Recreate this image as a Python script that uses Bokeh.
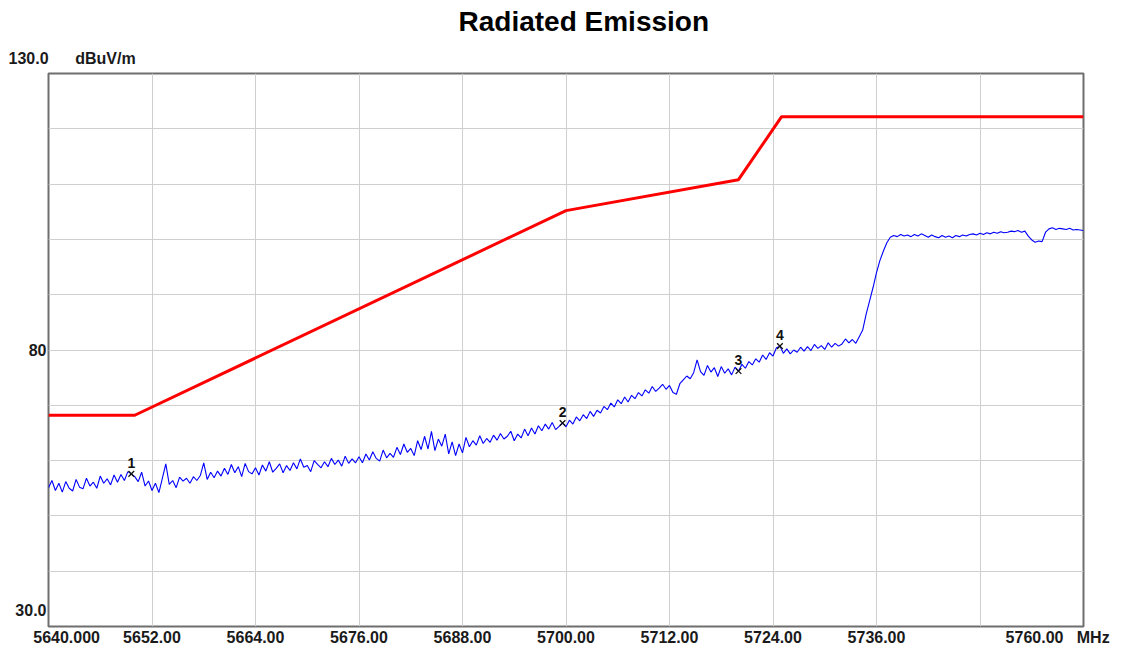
import numpy as np
from bokeh.plotting import figure
from bokeh.models import FixedTicker, Title
from bokeh.core.properties import value
from bokeh.embed import file_html
from bokeh.resources import INLINE

# ---- data ----
limit_freq = [5640.0, 5650.0, 5700.0, 5720.0, 5725.0, 5760.0]
limit_level = [68.2, 68.2, 105.2, 110.8, 122.2, 122.2]

trace_level = [
    55.1, 56.4, 54.6, 55.9, 54.3, 56.2, 55.0, 54.5, 56.6, 55.2,
    54.9, 56.8, 55.4, 56.1, 55.0, 57.2, 55.9, 56.7, 55.6, 57.4,
    56.1, 57.5, 56.4, 58.0, 57.6, 57.1, 56.2, 57.9, 55.4, 56.3,
    54.6, 55.9, 54.2, 56.8, 59.4, 55.7, 56.4, 55.1, 57.0, 56.3,
    56.8, 55.9, 57.1, 56.4, 57.3, 59.6, 56.6, 57.9, 56.9, 58.1,
    57.2, 58.6, 57.5, 59.3, 57.8, 58.9, 57.1, 59.5, 58.0, 57.6,
    58.7, 57.4, 59.2, 58.1, 59.8, 57.9, 58.6, 59.4, 57.8, 59.1,
    58.2, 59.6, 58.5, 60.3, 58.8, 59.1, 58.0, 60.0, 59.3, 58.7,
    59.8, 58.9, 60.4, 59.3, 60.1, 59.0, 60.8, 59.5, 60.3, 59.6,
    60.7, 59.6, 61.2, 60.1, 61.6, 60.4, 59.9, 61.9, 60.5, 61.3,
    60.6, 62.4, 61.1, 63.0, 61.5, 62.2, 60.9, 63.6, 62.0, 64.4,
    62.1, 65.3, 61.8, 63.9, 62.6, 64.8, 61.2, 63.4, 60.9, 63.0,
    61.4, 64.2, 62.5, 63.6, 62.8, 64.5, 63.1, 64.0, 63.3, 64.6,
    63.7, 64.9, 63.9, 64.4, 65.3, 63.6, 64.8, 64.1, 65.7, 64.5,
    65.9, 64.8, 66.3, 65.4, 66.6, 65.7, 66.9, 65.6, 66.2, 66.8,
    66.1, 67.3, 66.6, 67.9, 67.2, 68.3, 67.6, 68.9, 68.0, 69.1,
    68.6, 69.8, 69.2, 70.4, 69.7, 71.0, 70.3, 71.5, 70.6, 71.8,
    71.2, 72.3, 71.7, 72.8, 72.2, 73.4, 72.5, 73.1, 73.8, 72.9,
    73.6, 72.3, 72.0, 73.9, 74.6, 75.3, 74.8, 75.9, 78.2, 76.1,
    75.4, 77.2, 76.0, 76.8, 75.2, 77.0, 75.8, 76.6, 75.5, 76.9,
    76.2, 77.4, 76.7, 77.9, 77.3, 78.4, 77.8, 79.1, 78.3, 79.5,
    78.9, 80.4, 80.7, 79.4, 80.2, 79.3, 80.0, 79.6, 80.5, 79.8,
    80.6, 79.9, 81.0, 80.3, 80.8, 80.1, 81.3, 80.5, 81.2, 80.7,
    81.1, 82.0, 81.3, 81.9, 81.2, 82.4, 83.6, 86.5, 88.9, 91.3,
    94.0, 96.2, 97.9, 99.4, 100.4, 100.7, 100.5, 100.9, 100.6, 100.8,
    100.5, 100.9, 100.6, 101.0, 100.7, 100.4, 100.8, 100.5, 100.3, 100.7,
    100.4, 100.6, 100.3, 100.7, 100.5, 100.8, 100.6, 100.9, 101.0, 100.8,
    101.1, 100.9, 101.2, 101.0, 101.3, 101.1, 101.4, 101.2, 101.3, 101.5,
    101.4, 101.6, 101.3, 101.5, 100.6, 99.9, 99.5, 99.7, 99.6, 101.3,
    101.9, 102.1, 101.8, 102.0, 101.9, 101.8, 102.0, 101.7, 101.8, 101.7,
    101.6,
]
trace_freq = np.linspace(5640.0, 5760.0, len(trace_level))

marker_freq = [5649.6, 5699.6, 5720.0, 5724.8]
marker_level = [57.6, 66.8, 76.2, 80.7]
marker_label = ["1", "2", "3", "4"]

# tick labels (the analyser prints the end labels shifted inward)
x_tick_pos = [5642.1, 5652, 5664, 5676, 5688, 5700, 5712, 5724, 5736, 5757.0]
x_tick_labels = ["5640.000", "5652.00", "5664.00", "5676.00", "5688.00",
                 "5700.00", "5712.00", "5724.00", "5736.00",
                 "5760.00\u00a0\u00a0\u00a0MHz"]
x_grid = [5640, 5652, 5664, 5676, 5688, 5700, 5712, 5724, 5736, 5748, 5760]
y_grid = [40, 50, 60, 70, 80, 90, 100, 110, 120]
y_tick_pos = [33.07, 80]
y_tick_labels = ["30.0", "80"]
y_top_text = "130.0" + "\u00a0" * 6 + "dBuV/m"
title_text = "Radiated Emission"

FONT = "Liberation Sans"

p = figure(width=1123, height=651, x_range=(5640, 5760), y_range=(30, 130),
           output_backend="svg", toolbar_location=None, title=None,
           min_border_left=48, min_border_right=40, min_border_top=72,
           min_border_bottom=25)
p.background_fill_color = "white"
p.border_fill_color = "white"
p.outline_line_color = "#6e6e6e"
p.outline_line_width = 2

# titles (first added sits nearest the frame)
p.add_layout(Title(text=y_top_text, align="left", offset=-40, standoff=14,
                   text_font=FONT, text_font_style="bold",
                   text_font_size="16px", text_color="#1a1a1a"), "above")
p.add_layout(Title(text=title_text, align="left", offset=410, standoff=7,
                   text_font=FONT, text_font_style="bold",
                   text_font_size="28px", text_color="#000000"), "above")

# grids
p.xgrid.ticker = FixedTicker(ticks=x_grid)
p.ygrid.ticker = FixedTicker(ticks=y_grid)
p.xgrid.grid_line_color = "#cfcfcf"
p.ygrid.grid_line_color = "#cfcfcf"

# x axis
p.xaxis.ticker = FixedTicker(ticks=x_tick_pos)
p.xaxis.major_label_overrides = dict(zip(x_tick_pos, x_tick_labels))
p.xaxis.axis_line_color = None
p.xaxis.major_tick_line_color = None
p.xaxis.minor_tick_line_color = None
p.xaxis.major_tick_out = 0
p.xaxis.major_label_standoff = 2
p.xaxis.major_label_text_font = FONT
p.xaxis.major_label_text_font_style = "bold"
p.xaxis.major_label_text_font_size = "16px"
p.xaxis.major_label_text_color = "#1a1a1a"

# y axis
p.yaxis.ticker = FixedTicker(ticks=y_tick_pos)
p.yaxis.major_label_overrides = dict(zip(y_tick_pos, y_tick_labels))
p.yaxis.axis_line_color = None
p.yaxis.major_tick_line_color = None
p.yaxis.minor_tick_line_color = None
p.yaxis.major_tick_out = 0
p.yaxis.major_label_standoff = 2
p.yaxis.major_label_text_font = FONT
p.yaxis.major_label_text_font_style = "bold"
p.yaxis.major_label_text_font_size = "16px"
p.yaxis.major_label_text_color = "#1a1a1a"

# series
p.line(limit_freq, limit_level, line_color="#ff0000", line_width=3)
p.line(trace_freq, trace_level, line_color="#0000ff", line_width=1.1)
p.scatter(marker_freq, marker_level, marker="x", size=8,
          line_color="#111111", line_width=1.3)
p.text(marker_freq, marker_level, text=marker_label, y_offset=-11,
       text_align="center", text_baseline="middle",
       text_font=value(FONT), text_font_style="bold",
       text_font_size="14px", text_color="#111111")

open("out.html", "w").write(file_html(p, INLINE))
